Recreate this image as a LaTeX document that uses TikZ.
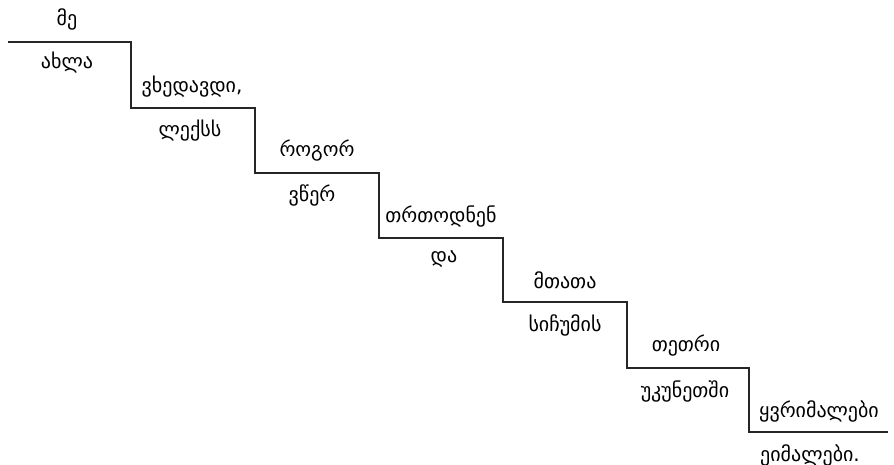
\documentclass[tikz,border=0pt]{standalone}
\usepackage{fontspec}
\newfontfamily\geo[Script=Georgian]{DejaVu Sans}
\begin{document}
\begin{tikzpicture}[x=1bp,y=-1bp,
  word/.style={font=\geo\fontsize{20bp}{24bp}\selectfont, inner sep=0pt, anchor=center},
  stair/.style={draw=black!85, line width=2.2bp}]
\useasboundingbox (0,0) rectangle (894,465);
\coordinate (p0) at (8,42);
\coordinate (p1) at (131,42);
\coordinate (p2) at (131,108);
\coordinate (p3) at (255,108);
\coordinate (p4) at (255,173);
\coordinate (p5) at (379,173);
\coordinate (p6) at (379,238);
\coordinate (p7) at (503,238);
\coordinate (p8) at (503,302);
\coordinate (p9) at (627,302);
\coordinate (p10) at (627,368);
\coordinate (p11) at (749,368);
\coordinate (p12) at (749,432);
\coordinate (p13) at (888,432);
\draw[stair] (p0) -- (p1) -- (p2) -- (p3) -- (p4) -- (p5) -- (p6) -- (p7) -- (p8) -- (p9) -- (p10) -- (p11) -- (p12) -- (p13);
\node[word] (w1) at (67,19) {მე};
\node[word] (w2) at (67,63) {ახლა};
\node[word] (w3) at (192,87) {ვხედავდი,};
\node[word] (w4) at (190,131) {ლექსს};
\node[word] (w5) at (317,151) {როგორ};
\node[word] (w6) at (312,195) {ვწერ};
\node[word] (w7) at (441,217) {თრთოდნენ};
\node[word] (w8) at (444,259) {და};
\node[word] (w9) at (565,280) {მთათა};
\node[word] (w10) at (565,325) {სიჩუმის};
\node[word] (w11) at (686,346) {თეთრი};
\node[word] (w12) at (685,391) {უკუნეთში};
\node[word] (w13) at (819,411) {ყვრიმალები};
\node[word] (w14) at (810,455) {ეიმალები.};
\end{tikzpicture}
\end{document}
